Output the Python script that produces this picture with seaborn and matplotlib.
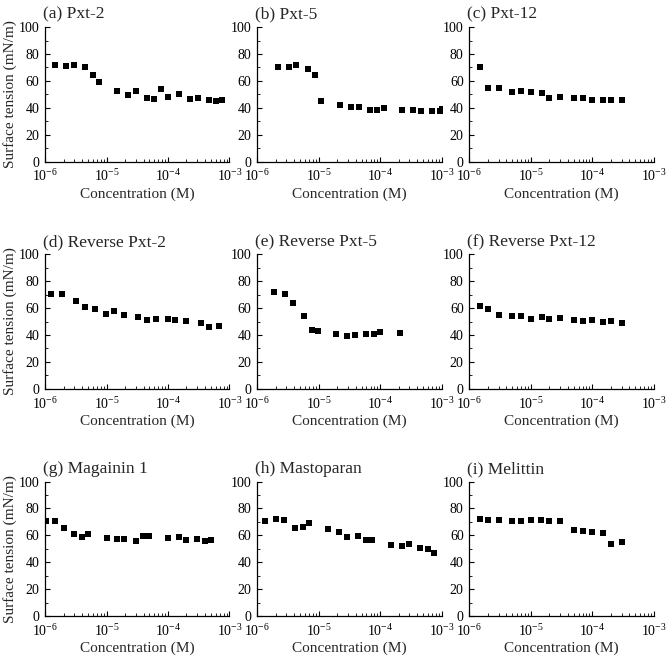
"""Surface tension vs concentration for nine peptides."""
import matplotlib
matplotlib.use("Agg")
import numpy as np
import pandas as pd
import seaborn as sns
import matplotlib.pyplot as plt
from matplotlib.ticker import LogLocator, MultipleLocator, NullFormatter

# (a) Pxt-2
pxt2_conc = [1.46e-6, 2.19e-6, 2.92e-6, 4.43e-6, 5.93e-6, 7.43e-6, 1.49e-5, 2.26e-5,
             3.0e-5, 4.5e-5, 6.0e-5, 7.7e-5, 1.0e-4, 1.5e-4, 2.3e-4, 3.1e-4, 4.6e-4,
             6.1e-4, 7.7e-4]
pxt2_tension = [71.8, 70.8, 71.8, 70.6, 64.7, 58.8, 52.2, 49.8, 52.2, 47.3, 46.8, 53.7,
                48.0, 50.2, 46.8, 47.3, 46.1, 45.1, 46.1]

# (b) Pxt-5
pxt5_conc = [2.17e-6, 3.25e-6, 4.35e-6, 6.6e-6, 8.75e-6, 1.1e-5, 2.2e-5, 3.35e-5,
             4.5e-5, 6.8e-5, 9.0e-5, 1.15e-4, 2.3e-4, 3.47e-4, 4.65e-4, 6.97e-4,
             9.3e-4, 1.02e-3]
pxt5_tension = [70.6, 70.6, 71.8, 68.9, 64.5, 45.3, 41.7, 40.7, 40.2, 38.5, 38.5, 40.0,
                38.0, 38.5, 37.5, 37.5, 37.7, 39.0]

# (c) Pxt-12
pxt12_conc = [1.49e-6, 2.0e-6, 3.0e-6, 5.0e-6, 7.0e-6, 1.02e-5, 1.5e-5, 2.0e-5, 3.0e-5,
              5.0e-5, 7.0e-5, 1.0e-4, 1.5e-4, 2.0e-4, 3.1e-4]
pxt12_tension = [70.1, 54.4, 54.4, 52.0, 52.2, 51.7, 51.0, 47.5, 48.0, 47.5, 47.5, 46.1,
                 46.1, 46.1, 46.1]

# (d) Reverse Pxt-2
rpxt2_conc = [1.25e-6, 1.9e-6, 3.2e-6, 4.5e-6, 6.45e-6, 9.8e-6, 1.3e-5, 1.94e-5,
              3.25e-5, 4.56e-5, 6.5e-5, 1.0e-4, 1.3e-4, 2.0e-4, 3.4e-4, 4.7e-4, 6.8e-4]
rpxt2_tension = [70.1, 70.1, 65.4, 61.0, 59.5, 55.6, 57.8, 54.8, 53.1, 51.4, 52.1, 51.6,
                 51.1, 50.6, 48.6, 46.2, 46.4]

# (e) Reverse Pxt-5
rpxt5_conc = [1.88e-6, 2.86e-6, 3.84e-6, 5.75e-6, 7.7e-6, 9.7e-6, 1.94e-5, 2.95e-5,
              3.96e-5, 6.0e-5, 7.95e-5, 1.0e-4, 2.1e-4]
rpxt5_tension = [71.6, 70.3, 63.5, 54.4, 43.9, 42.6, 40.4, 39.5, 39.7, 40.9, 40.7, 42.2,
                 41.4]

# (f) Reverse Pxt-12
rpxt12_conc = [1.48e-6, 2.0e-6, 3.0e-6, 5.0e-6, 7.06e-6, 1.02e-5, 1.5e-5, 2.0e-5,
               3.0e-5, 5.06e-5, 7.1e-5, 1.0e-4, 1.52e-4, 2.03e-4, 3.1e-4]
rpxt12_tension = [61.3, 59.4, 54.9, 54.2, 53.9, 52.0, 53.4, 52.0, 52.5, 51.0, 50.7, 51.5,
                  49.3, 50.2, 48.8]

# (g) Magainin 1
magainin_conc = [1.04e-6, 1.47e-6, 2.0e-6, 3.0e-6, 3.94e-6, 4.92e-6, 1.0e-5, 1.48e-5,
                 1.96e-5, 3.0e-5, 3.98e-5, 4.98e-5, 1.0e-4, 1.5e-4, 2.0e-4, 3.0e-4,
                 4.0e-4, 5.0e-4]
magainin_tension = [70.7, 70.7, 65.3, 61.3, 58.8, 61.0, 57.8, 57.1, 57.6, 55.8, 59.8,
                    59.8, 58.3, 58.6, 56.8, 57.3, 55.6, 56.3]

# (h) Mastoparan
mastoparan_conc = [1.34e-6, 2.03e-6, 2.72e-6, 4.14e-6, 5.54e-6, 6.97e-6, 1.41e-5,
                   2.13e-5, 2.85e-5, 4.33e-5, 5.8e-5, 7.3e-5, 1.48e-4, 2.25e-4,
                   2.98e-4, 4.53e-4, 6.05e-4, 7.6e-4]
mastoparan_tension = [71.0, 71.8, 71.3, 65.8, 66.3, 69.1, 64.6, 62.6, 58.7, 59.7, 56.4,
                      56.2, 52.7, 52.2, 53.7, 50.5, 49.8, 46.8]

# (i) Melittin
melittin_conc = [1.47e-6, 2.0e-6, 3.0e-6, 5.0e-6, 7.0e-6, 1.0e-5, 1.48e-5, 2.0e-5,
                 2.98e-5, 5.0e-5, 7.0e-5, 9.9e-5, 1.5e-4, 2.0e-4, 3.0e-4]
melittin_tension = [72.0, 71.5, 71.5, 71.0, 71.0, 71.3, 71.5, 70.8, 70.3, 63.6, 63.1,
                    62.1, 61.6, 53.5, 55.0]

titles = ["(a) Pxt-2", "(b) Pxt-5", "(c) Pxt-12",
          "(d) Reverse Pxt-2", "(e) Reverse Pxt-5", "(f) Reverse Pxt-12",
          "(g) Magainin 1", "(h) Mastoparan", "(i) Melittin"]
series = [(pxt2_conc, pxt2_tension), (pxt5_conc, pxt5_tension),
          (pxt12_conc, pxt12_tension), (rpxt2_conc, rpxt2_tension),
          (rpxt5_conc, rpxt5_tension), (rpxt12_conc, rpxt12_tension),
          (magainin_conc, magainin_tension), (mastoparan_conc, mastoparan_tension),
          (melittin_conc, melittin_tension)]

sns.set_theme(style="ticks")
plt.rcParams["font.family"] = ["Liberation Serif", "DejaVu Serif"]
plt.rcParams["mathtext.fontset"] = "stix"

fig, axes = plt.subplots(3, 3, figsize=(6.67, 6.6), dpi=100)
fig.subplots_adjust(left=0.0675, right=0.98, bottom=0.0667, top=0.959,
                    wspace=0.15, hspace=0.69)

for i, ax in enumerate(axes.flat):
    conc, tension = series[i]
    df = pd.DataFrame({"Concentration": conc, "Tension": tension})
    sns.scatterplot(data=df, x="Concentration", y="Tension", ax=ax, marker="s",
                    color="black", s=16, linewidth=0, clip_on=True)
    ax.set_xscale("log")
    ax.set_xlim(1e-6, 1e-3)
    ax.set_ylim(0, 100)
    ax.xaxis.set_major_locator(LogLocator(base=10, numticks=10))
    ax.xaxis.set_minor_locator(LogLocator(base=10, subs=np.arange(2, 10), numticks=20))
    ax.xaxis.set_minor_formatter(NullFormatter())
    ax.yaxis.set_major_locator(MultipleLocator(20))
    ax.yaxis.set_minor_locator(MultipleLocator(10))
    ax.tick_params(which="both", direction="in", colors="black", labelsize=10)
    ax.tick_params(axis="x", pad=5)
    ax.tick_params(axis="y", pad=4)
    ax.tick_params(which="major", length=3.5, width=0.8)
    ax.tick_params(which="minor", length=2, width=0.6)
    for side in ["top", "right"]:
        ax.spines[side].set_visible(False)
    for side in ["left", "bottom"]:
        ax.spines[side].set_color("black")
        ax.spines[side].set_linewidth(0.9)
    ax.set_title(titles[i], loc="left", fontsize=12.5, pad=6, x=-0.01)
    ax.set_xlabel("Concentration (M)", fontsize=11, labelpad=2)
    if i % 3 == 0:
        ax.set_ylabel("Surface tension (mN/m)", fontsize=11, labelpad=1)
    else:
        ax.set_ylabel("")

fig.savefig("out.png", dpi=100)
